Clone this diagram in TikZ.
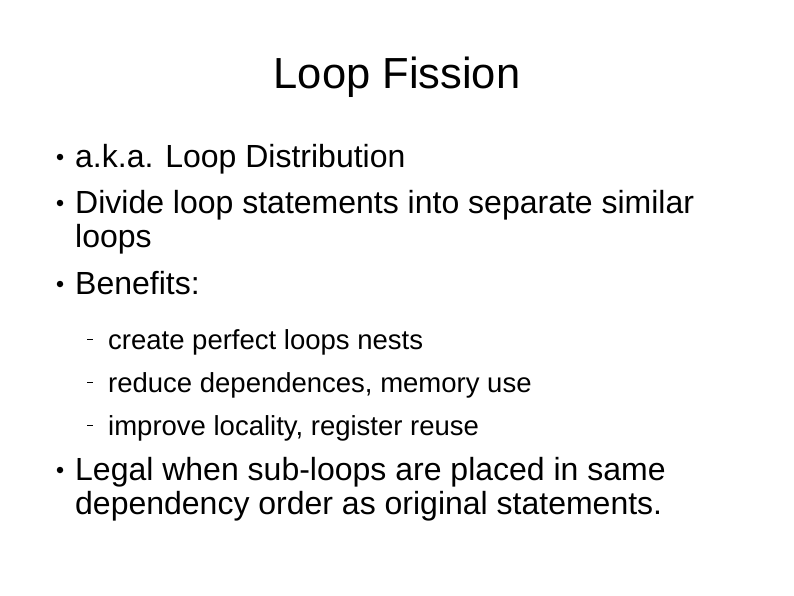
\documentclass[tikz,border=0pt]{standalone}
\usepackage{fontspec}
\setmainfont{Liberation Sans}
\begin{document}
\begin{tikzpicture}[x=1pt,y=-1pt,
  big/.style={anchor=base west,inner sep=0pt,font=\fontsize{32}{34}\selectfont},
  small/.style={anchor=base west,inner sep=0pt,font=\fontsize{27.5}{30}\selectfont},
  dot/.style={circle,fill=black,inner sep=0pt,minimum size=6.5pt},
  dashmark/.style={draw=black,line width=0.9pt}]
\useasboundingbox (0,0) rectangle (794,595);
\node[anchor=base,inner sep=0pt,font=\fontsize{43.5}{46}\selectfont] (title) at (397,88) {Loop Fission};
\node[big] (l1) at (75,167) {a.k.a. Loop Distribution};
\node[big] (l2) at (75,213) {Divide loop statements into separate similar};
\node[big] (l2b) at (75,247) {loops};
\node[big] (l3) at (75,294) {Benefits:};
\node[small] (s1) at (108,349) {create perfect loops nests};
\node[small] (s2) at (108,392) {reduce dependences, memory use};
\node[small] (s3) at (108,435) {improve locality, register reuse};
\node[big] (l4) at (75,480) {Legal when sub-loops are placed in same};
\node[big] (l4b) at (75,514) {dependency order as original statements.};
\node[dot] (d1) at (60,157) {};
\node[dot] (d2) at (60,203) {};
\node[dot] (d3) at (60,284) {};
\node[dot] (d4) at (60,470) {};
\draw[dashmark] (87,339) -- (93,339);
\draw[dashmark] (87,382) -- (93,382);
\draw[dashmark] (87,425) -- (93,425);
\end{tikzpicture}
\end{document}
